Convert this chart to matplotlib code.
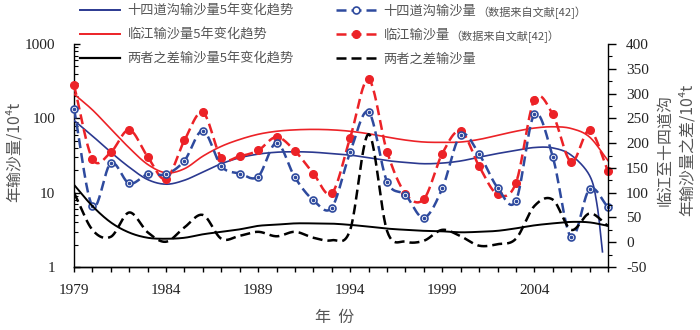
import numpy as np
import matplotlib
matplotlib.use("Agg")
import matplotlib.pyplot as plt
from matplotlib.lines import Line2D

plt.rcParams['font.family'] = ['Noto Sans CJK SC', 'DejaVu Sans']

# ---------------- data ----------------
years = list(range(1979, 2009))
# 十四道沟输沙量 (10^4 t), left log axis
sisidaogou = [135, 6.6, 25, 13.3, 17.7, 17.7, 27, 68, 22.7, 18.1,
              16.5, 46.6, 16, 7.9, 6.3, 35, 122, 14.1, 9.3, 4.6,
              11.4, 60, 33, 11.7, 7.8, 113, 30.3, 2.5, 11.2, 6.4]
# 临江输沙量 (10^4 t), left log axis
linjiang = [280, 28.6, 35, 70, 30.3, 15.3, 50.7, 120, 29.7, 31,
            37, 56, 36.4, 18.1, 9.8, 55, 334, 35.7, 9.7, 8.2,
            33.6, 67.6, 22.7, 9.5, 13.5, 178, 113, 25.9, 69, 19.6]
# 两者之差输沙量 (10^4 t), right linear axis
diff = [100, 25, 11, 60, 20, 1, 30, 55, 7, 13,
        21, 12, 21, 9, 4, 25, 218, 23, 1, 3,
        25, 12, -7, -4, 7, 73, 86, 25, 58, 33]

# 5-year trend curves
trend_blue_years = list(range(1979, 2008)) + [2007.4, 2007.7]
trend_blue = [94, 58, 35, 22, 15, 13, 14.7, 19, 24.5, 29.5,
              33, 35, 35.5, 35, 33.5, 32, 29.5, 27, 25.5, 24.5,
              25, 26.7, 30, 33.6, 37, 40.5, 40, 32, 17, 7, 1.6]
trend_red_years = list(range(1979, 2009))
trend_red = [212, 130, 72, 40, 24, 18.5, 21, 31, 42, 52,
             61, 67, 70, 71, 70, 67, 62, 56, 51, 48,
             47.5, 48, 52, 59, 67, 74, 77, 73, 56, 27]
trend_diff_years = list(range(1979, 2009))
trend_diff = [116, 73, 40, 19.5, 9, 7, 9, 16, 21, 26,
              33, 35.5, 38, 38, 37.5, 35, 31.5, 27.5, 25, 23,
              22, 20, 21, 23, 28, 34, 38, 41, 40, 33]

xtick_years = [1979, 1984, 1989, 1994, 1999, 2004]
xtick_labels = ['1979', '1984', '1989', '1994', '1999', '2004']
ytick_left = [1, 10, 100, 1000]
ytick_left_labels = ['1', '10', '100', '1000']
ytick_right = list(range(-50, 401, 50))
ytick_right_labels = [str(v) for v in ytick_right]

legend_labels_1 = ['十四道沟输沙量5年变化趋势', '临江输沙量5年变化趋势', '两者之差输沙量5年变化趋势']
legend_labels_2 = ['十四道沟输沙量', '临江输沙量', '两者之差输沙量']
legend_note = '（数据来自文献[42]）'

# ---------------- helpers ----------------
def smooth(x, y, n=24):
    P = np.column_stack([np.asarray(x, float), np.asarray(y, float)])
    P = np.vstack([2 * P[0] - P[1], P, 2 * P[-1] - P[-2]])
    out = []
    t = np.linspace(0, 1, n, endpoint=False)[:, None]
    for i in range(1, len(P) - 2):
        p0, p1, p2, p3 = P[i - 1], P[i], P[i + 1], P[i + 2]
        seg = 0.5 * ((2 * p1) + (-p0 + p2) * t + (2 * p0 - 5 * p1 + 4 * p2 - p3) * t ** 2
                     + (-p0 + 3 * p1 - 3 * p2 + p3) * t ** 3)
        out.append(seg)
    out.append(P[-2][None, :])
    S = np.vstack(out)
    return S[:, 0], S[:, 1]

def smooth_log(x, y):
    sx, sy = smooth(x, np.log10(y))
    return sx, 10 ** sy

BLUE_T = '#2B3990'
BLUE_D = '#2E4A9E'
RED = '#EC2227'
TXT = '#555555'
serif = 'Liberation Serif'

W, H = 700, 330
fig = plt.figure(figsize=(7, 3.3), dpi=100)
ax = fig.add_axes([74 / W, 1 - 267 / H, (608 - 74) / W, (267 - 44) / H])
ax2 = ax.twinx()

# trends
x, y = smooth_log(trend_blue_years, trend_blue)
ax.plot(x, y, color=BLUE_T, lw=1.2, zorder=3)
x, y = smooth_log(trend_red_years, trend_red)
ax.plot(x, y, color=RED, lw=1.2, zorder=3)
x, y = smooth(trend_diff_years, trend_diff)
ax2.plot(x, y, color='black', lw=1.4, zorder=3)

# dashed series
dash = (4, 2)
x, y = smooth_log(years, linjiang)
ax.plot(x, y, color=RED, lw=1.8, dashes=dash, zorder=4)
ax.plot(years, linjiang, ls='none', marker='o', ms=5.5, color=RED, zorder=5, clip_on=False)
x, y = smooth_log(years, sisidaogou)
ax.plot(x, y, color=BLUE_D, lw=1.8, dashes=dash, zorder=6)
ax.plot(years, sisidaogou, ls='none', marker='o', ms=5, mfc='white', mec=BLUE_D, mew=1.2,
        zorder=7, clip_on=False)
ax.plot(years, sisidaogou, ls='none', marker='o', ms=1.6, color=BLUE_D, zorder=8, clip_on=False)
x, y = smooth(years, diff)
ax2.plot(x, y, color='black', lw=1.8, dashes=dash, zorder=4)

# axes
ax.set_yscale('log')
ax.set_ylim(1, 1000)
ax.set_xlim(1979, 2008)
ax2.set_ylim(-50, 400)

for a in (ax, ax2):
    a.spines['top'].set_visible(False)
    for s in a.spines.values():
        s.set_linewidth(1.0)
ax.spines['right'].set_visible(False)
ax2.spines['left'].set_visible(False)

ax.set_xticks(xtick_years)
ax.set_xticklabels(xtick_labels, fontfamily=serif, fontsize=11, color='#222222')
ax.set_xticks(years, minor=True)
ax.tick_params(axis='x', which='both', direction='out', length=3.6, width=1.0, pad=9)

ax.set_yticks(ytick_left)
ax.set_yticklabels(ytick_left_labels, fontfamily=serif, fontsize=11, color='#222222')
ax.tick_params(axis='y', which='major', direction='in', length=4.5, width=1.0, pad=13.5)
ax.tick_params(axis='y', which='minor', direction='in', length=2.8, width=0.8)

ax2.set_yticks(ytick_right)
ax2.set_yticklabels(ytick_right_labels, fontfamily=serif, fontsize=11, color='#222222')
ax2.set_yticks(np.arange(-50, 401, 25), minor=True)
ax2.tick_params(axis='y', which='major', direction='out', length=5.5, width=1.0, pad=7.5)
ax2.tick_params(axis='y', which='minor', direction='out', length=3, width=0.8)

# axis labels
fig.text(335 / W, 1 - 317 / H, '年  份', ha='center', va='center', fontsize=11.5, color=TXT)
fig.text(14 / W, 1 - 152 / H, '年输沙量/10⁴t', ha='center', va='center', rotation=90,
         fontsize=11.5, color=TXT, family=['Noto Sans CJK SC', 'DejaVu Sans'])
fig.text(676 / W, 1 - 150 / H, '临江至十四道沟\n年输沙量之差/10⁴t', ha='center', va='center',
         rotation=90, fontsize=11.5, color=TXT, linespacing=1.35,
         family=['Noto Sans CJK SC', 'DejaVu Sans'])

# legends
h1 = [Line2D([], [], color=BLUE_T, lw=1.4),
      Line2D([], [], color=RED, lw=1.4),
      Line2D([], [], color='black', lw=1.6)]
h2 = [Line2D([], [], color=BLUE_D, lw=1.8, dashes=dash, marker='o', ms=5, mfc='white', mec=BLUE_D, mew=1.2),
      Line2D([], [], color=RED, lw=1.8, dashes=dash, marker='o', ms=5.5),
      Line2D([], [], color='black', lw=1.8, dashes=dash)]
leg_kw = dict(loc='upper left', frameon=False, borderpad=0, borderaxespad=0,
              handlelength=3.0, handletextpad=0.6, labelspacing=0.82,
              prop={'family': ['Noto Sans CJK SC', 'DejaVu Sans'], 'size': 9.5},
              labelcolor=TXT, numpoints=1)
leg1 = fig.legend(h1, legend_labels_1, bbox_to_anchor=(80 / W, 1 - 0 / H), **leg_kw)
leg2 = fig.legend(h2, legend_labels_2, bbox_to_anchor=(336 / W, 1 - 0 / H), **leg_kw)

fig.canvas.draw()
r = fig.canvas.get_renderer()
# shift legends so the first row sits ~9 px below the top edge
bb = leg1.get_texts()[0].get_window_extent(r)
cy = H - (bb.y0 + bb.y1) / 2
shift = 11.5 - cy
for lg, x0 in ((leg1, 80), (leg2, 336)):
    lg.set_bbox_to_anchor((x0 / W, 1 - shift / H), transform=fig.transFigure)
fig.canvas.draw()
for t in leg2.get_texts()[:2]:
    bb = t.get_window_extent(r)
    fig.text((bb.x1 + 1) / W, ((bb.y0 + bb.y1) / 2 - 1) / H, legend_note, ha='left', va='center',
             fontsize=8, color=TXT, family=['Noto Sans CJK SC', 'DejaVu Sans'])

fig.savefig('out.png', dpi=100)
